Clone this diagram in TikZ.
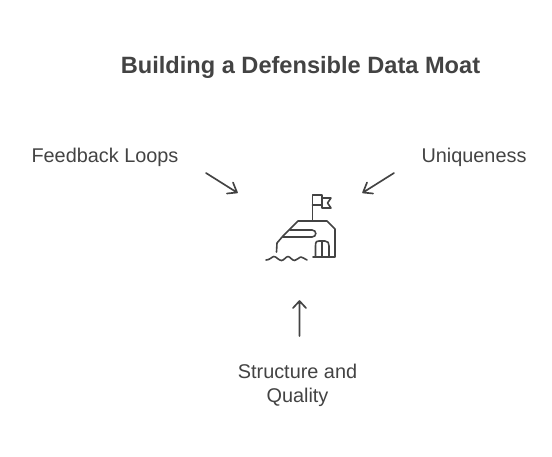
\documentclass[tikz,border=0pt]{standalone}
\usepackage{fontspec}
\setmainfont{Liberation Sans}
\definecolor{ink}{HTML}{434343}
\tikzset{
  x=0.75pt,y=-0.75pt,
  lbl/.style={text=ink,font=\fontsize{14.9}{18}\selectfont,align=center,inner sep=0pt},
  ttl/.style={text=ink,font=\bfseries\fontsize{17.7}{22}\selectfont,inner sep=0pt},
  arr/.style={draw=ink,line width=1.25pt,line cap=round,line join=round},
  ico/.style={draw=ink,line width=1.2pt,line join=round,line cap=round}
}
\begin{document}
\begin{tikzpicture}
\useasboundingbox (0,0) rectangle (552,456);
\node[ttl] (title) at (300.5,67) {Building a Defensible Data Moat};
\node[lbl] (fb) at (105,157.5) {Feedback Loops};
\node[lbl] (uq) at (474,157.5) {Uniqueness};
\node[lbl] (sq) at (297.5,385.5) {Structure and\\Quality};
% arrows
\coordinate (a1s) at (206,173); \coordinate (a1e) at (237,192.5);
\coordinate (a2s) at (394,173); \coordinate (a2e) at (363,192.5);
\coordinate (a3s) at (299.5,336); \coordinate (a3e) at (299.5,301);
\draw[arr] (a1s) -- (a1e) (227,193.5) -- (a1e) -- (233,182.5);
\draw[arr] (a2s) -- (a2e) (373,193.5) -- (a2e) -- (367,182.5);
\draw[arr] (a3s) -- (a3e) (293,308) -- (a3e) -- (306,308);
% icon
\draw[ico] (312.5,221) -- (312.5,195) -- (322,195) -- (322,205) -- (312.5,205);
\draw[ico] (322,198) -- (331,198) -- (327.5,203) -- (331,208) -- (322,208) -- (322,205);
\draw[ico] (313,257) -- (335,257) -- (335,229) -- (327,221) -- (298,221) -- (283,236) -- (277,243) -- (276.5,252);
\draw[ico] (283,237) -- (312,237) .. controls (317,237) and (317,230) .. (312,230) -- (290,230);
\draw[ico] (315.5,257) -- (315.5,246) .. controls (315.5,241) and (317,241) .. (319,241) -- (325,241) .. controls (328,241) and (329,243) .. (329,246) -- (329,257);
\draw[ico] (322,241) -- (322,257);
\draw[ico] (266,260) .. controls (270,260) and (272,256.5) .. (274,256.5) .. controls (276,256.5) and (279,260.5) .. (281.5,260.5)
 .. controls (284,260.5) and (286,256.5) .. (288,256.5) .. controls (290,256.5) and (292,260.5) .. (294.5,260.5)
 .. controls (297,260.5) and (299,257) .. (301,257) .. controls (303,257) and (304,259) .. (307,260);
\end{tikzpicture}
\end{document}
